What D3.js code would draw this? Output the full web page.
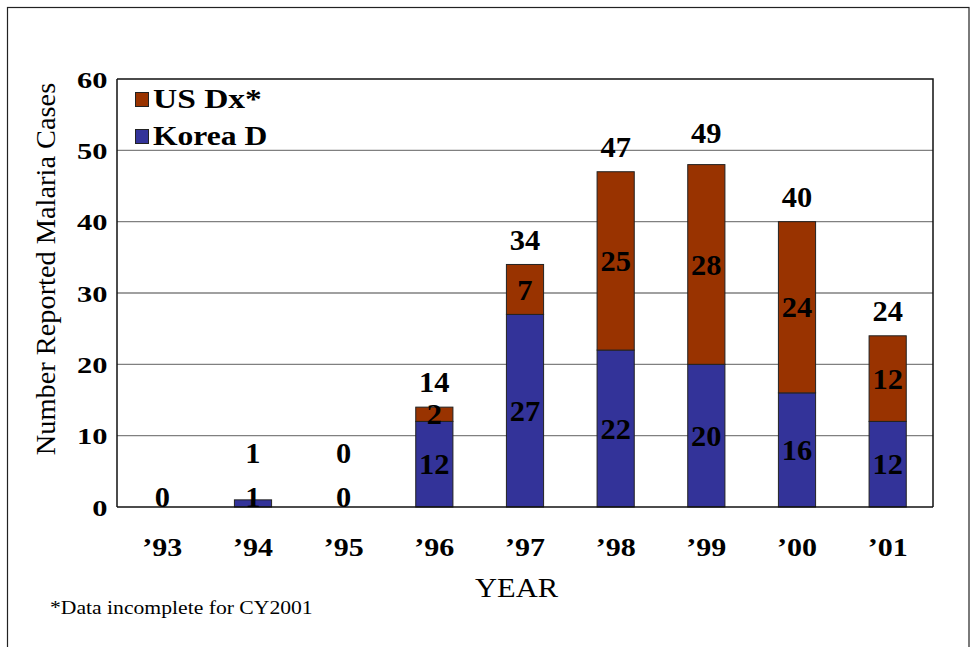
<!DOCTYPE html>
<html><head><meta charset="utf-8">
<script src="https://cdn.jsdelivr.net/npm/d3@7"></script>
<style>body{margin:0;background:#fff}svg{display:block}</style>
</head><body>
<script>
const years = ["\u201993","\u201994","\u201995","\u201996","\u201997","\u201998","\u201999","\u201900","\u201901"];
const korea = [0,1,0,12,27,22,20,16,12];
const usdx  = [0,0,0,2,7,25,28,24,12];
const totals = [null,1,0,14,34,47,49,40,24];
const yTicks = [0,10,20,30,40,50,60];
const seriesNames = ["US Dx*","Korea D"];
const colors = {korea:"#333399", us:"#993300"};

const W=972,H=647;
const m={l:117,t:79,r:933,b:507};
const svg=d3.select("body").append("svg").attr("width",W).attr("height",H);
const font="'Liberation Serif','Times New Roman',serif";

function stretch(sel,sx){
  sel.each(function(){
    const L=this.getComputedTextLength();
    d3.select(this).attr("textLength",L*sx).attr("lengthAdjust","spacingAndGlyphs");
  });
}

// frame
svg.append("rect").attr("x",7.5).attr("y",7.5).attr("width",961.5).attr("height",650)
  .attr("fill","none").attr("stroke","#222").attr("stroke-width",1.2);

const x=d3.scaleBand().domain(years).range([m.l,m.r]).paddingInner(0.59).paddingOuter(0.295);
const y=d3.scaleLinear().domain([0,60]).range([m.b,m.t]);

// gridlines
svg.append("g").selectAll("line").data(yTicks.filter(d=>d>0&&d<60)).join("line")
  .attr("x1",m.l).attr("x2",m.r).attr("y1",d=>y(d)).attr("y2",d=>y(d))
  .attr("stroke","#808080").attr("stroke-width",1.3);

// plot border
svg.append("path").attr("d",`M${m.l},${m.t}H${m.r}V${m.b}`).attr("fill","none").attr("stroke","#111").attr("stroke-width",1.5);

// bars
const data=years.map((yr,i)=>({yr,k:korea[i],u:usdx[i],t:totals[i]}));
const g=svg.append("g");
g.selectAll("rect.k").data(data.filter(d=>d.k>0)).join("rect").attr("class","k")
  .attr("x",d=>x(d.yr)).attr("width",x.bandwidth())
  .attr("y",d=>y(d.k)).attr("height",d=>y(0)-y(d.k))
  .attr("fill",colors.korea).attr("stroke","#222").attr("stroke-width",1);
g.selectAll("rect.u").data(data.filter(d=>d.u>0)).join("rect").attr("class","u")
  .attr("x",d=>x(d.yr)).attr("width",x.bandwidth())
  .attr("y",d=>y(d.k+d.u)).attr("height",d=>y(d.k)-y(d.k+d.u))
  .attr("fill",colors.us).attr("stroke","#222").attr("stroke-width",1);

// axes lines
svg.append("line").attr("x1",m.l).attr("x2",m.l).attr("y1",m.t).attr("y2",m.b).attr("stroke","#111").attr("stroke-width",1.5);
svg.append("line").attr("x1",m.l).attr("x2",m.r).attr("y1",m.b).attr("y2",m.b).attr("stroke","#111").attr("stroke-width",1.5);

// y tick labels
svg.append("g").selectAll("text").data(yTicks).join("text")
  .attr("x",107.5).attr("y",d=>y(d)+8.5).attr("text-anchor","end")
  .attr("font-family",font).attr("font-weight","bold").attr("font-size",24).text(d=>d)
  .call(stretch,1.27);

// x tick labels
svg.append("g").selectAll("text").data(years).join("text")
  .attr("x",d=>x(d)+x.bandwidth()/2).attr("y",556).attr("text-anchor","middle")
  .attr("font-family",font).attr("font-weight","bold").attr("font-size",25).text(d=>d)
  .call(stretch,1.2);

// value labels
const lab=svg.append("g").attr("font-family",font).attr("font-weight","bold").attr("font-size",29).attr("text-anchor","middle");
const cx=d=>x(d.yr)+x.bandwidth()/2;
lab.selectAll("text.k").data(data).join("text")
  .attr("x",cx).attr("y",d=>Math.min((y(0)+y(d.k))/2,y(0)-10)).attr("dy","0.35em").text(d=>d.k)
  .call(stretch,1.05);
lab.selectAll("text.u").data(data.filter(d=>d.u>0)).join("text")
  .attr("x",cx).attr("y",d=>(y(d.k)+y(d.k+d.u))/2).attr("dy","0.35em").text(d=>d.u)
  .call(stretch,1.05);
lab.selectAll("text.t").data(data.filter(d=>d.t!==null)).join("text")
  .attr("x",cx).attr("y",d=>Math.min(y(d.t)-25,y(0)-54)).attr("dy","0.35em").text(d=>d.t)
  .call(stretch,1.05);

// legend
const leg=svg.append("g");
seriesNames.forEach((s,i)=>{
  leg.append("rect").attr("x",135.5).attr("y",92.5+i*37).attr("width",13).attr("height",14)
    .attr("fill",i===0?colors.us:colors.korea).attr("stroke","#222").attr("stroke-width",1);
  leg.append("text").attr("x",153).attr("y",108+i*37)
    .attr("font-family",font).attr("font-weight","bold").attr("font-size",27).text(s)
    .call(stretch,i===0?1.24:1.17);
});

// axis titles
svg.append("text").attr("transform","translate(55,269) rotate(-90)").attr("text-anchor","middle")
  .attr("font-family",font).attr("font-size",27).text("Number Reported Malaria Cases")
  .call(stretch,1.05);
svg.append("text").attr("x",516.5).attr("y",597).attr("text-anchor","middle")
  .attr("font-family",font).attr("font-size",27).text("YEAR")
  .call(stretch,1.13);
svg.append("text").attr("x",50).attr("y",614)
  .attr("font-family",font).attr("font-size",18.5).text("*Data incomplete for CY2001")
  .call(stretch,1.17);
</script>
</body></html>
